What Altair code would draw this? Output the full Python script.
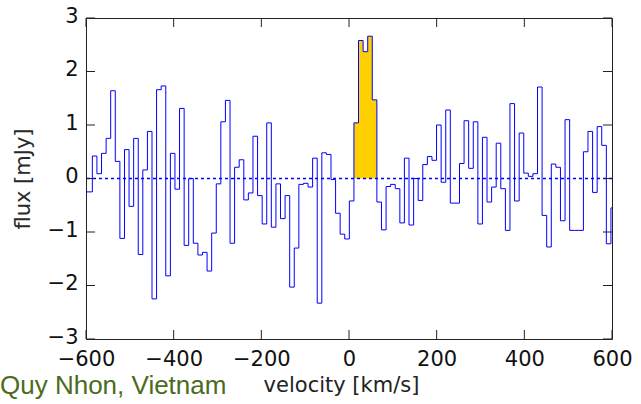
import altair as alt
import pandas as pd

# Channel left edges (km/s); last entry closes the final channel
velocity = [
    -600.0, -585.5, -575.1, -564.6, -554.1, -543.7, -533.2, -522.7, -512.2, -501.8,
    -491.3, -480.8, -470.4, -459.9, -449.4, -439.0, -428.5, -418.0, -407.5, -397.1,
    -386.6, -376.1, -365.7, -355.2, -344.7, -334.3, -323.8, -313.3, -302.8, -292.4,
    -281.9, -271.4, -261.0, -250.5, -240.0, -229.6, -219.1, -208.6, -198.1, -187.7,
    -177.2, -166.7, -156.3, -145.8, -135.3, -124.9, -114.4, -103.9, -93.4, -83.0,
    -72.5, -62.0, -51.6, -41.1, -30.6, -20.2, -9.7, 0.8, 11.3, 21.7,
    32.2, 42.7, 53.1, 63.6, 74.1, 84.6, 95.0, 105.5, 116.0, 126.4,
    136.9, 147.4, 157.8, 168.3, 178.8, 189.3, 199.7, 210.2, 220.7, 231.1,
    241.6, 252.1, 262.5, 273.0, 283.5, 294.0, 304.4, 314.9, 325.4, 335.8,
    346.3, 356.8, 367.2, 377.7, 388.2, 398.7, 409.1, 419.6, 430.1, 440.5,
    451.0, 461.5, 471.9, 482.4, 492.9, 503.4, 513.8, 524.3, 534.8, 545.2,
    555.7, 566.2, 576.6, 587.1, 597.6, 608.0,
]

# Flux per channel (mJy)
flux = [
    -0.25, 0.42, 0.09, 0.47, 0.75, 1.64, 0.32, -1.12, 0.54, -0.52,
    0.75, -1.42, 0.16, 0.88, -2.25, 1.66, 1.73, -1.82, 0.47, -0.20,
    1.31, -1.25, 0.00, -1.21, -1.43, -1.38, -1.73, -1.02, -0.10, 1.06,
    1.46, -1.21, 0.21, 0.35, -0.40, -0.27, 0.79, -0.32, -0.85, 1.04,
    -0.91, -0.10, -0.75, -0.32, -2.03, -1.30, -0.11, -0.09, -0.16, 0.38,
    -2.33, 0.48, 0.45, -0.02, -0.65, -1.04, -1.13, -0.42, 1.04, 2.58,
    2.37, 2.66, 1.47, -0.44, -0.96, -0.15, -0.11, -0.19, -0.83, 0.38,
    -0.87, 0.00, -0.41, 0.26, 0.41, 0.34, 1.00, -0.07, 1.28, -0.46,
    -0.46, 0.28, 1.08, 0.19, 1.06, -0.85, 0.77, -0.44, -0.16, 0.66,
    -0.19, -0.97, 1.40, -0.42, 0.85, 0.10, 0.04, 0.09, 1.71, -0.69,
    -1.28, 0.27, 0.21, -0.79, 1.10, -0.97, -0.97, -0.97, 0.50, 0.88,
    -0.26, 0.97, 0.62, -1.22, -0.55,
]

# Channels of the detected line (highlighted)
line_first, line_last = 58, 62

x_ticks = [-600, -400, -200, 0, 200, 400, 600]
y_ticks = [-3, -2, -1, 0, 1, 2, 3]
location = "Quy Nhon, Vietnam"

W, H = 526, 321
TICK = 9
BLUE = "#0000ff"

spec = pd.DataFrame({"velocity": velocity, "flux": flux + [flux[-1]]})
emis = spec.iloc[line_first:line_last + 2].copy()
emis.iloc[-1, emis.columns.get_loc("flux")] = flux[line_last]

xscale = alt.Scale(domain=[-600, 600], nice=False, zero=False)
yscale = alt.Scale(domain=[-3, 3], nice=False, zero=False)

xaxis = alt.Axis(values=x_ticks, ticks=False, domain=False, grid=False,
                 labelFont="DejaVu Sans", labelFontSize=21, labelColor="#111",
                 labelPadding=9, labelFlush=False, labelOverlap=False,
                 title="velocity [km/s]", titleFont="DejaVu Sans", titleFontSize=21,
                 titleFontWeight="normal", titleColor="#222",
                 titleX=255, titleY=52, titleBaseline="alphabetic", titleAlign="center")
yaxis = alt.Axis(values=y_ticks, ticks=False, domain=False, grid=False,
                 labelFont="DejaVu Sans", labelFontSize=21, labelColor="#111",
                 labelPadding=8, labelOffset=-2, labelFlush=False, labelOverlap=False,
                 title="flux [mJy]", titleFont="DejaVu Sans", titleFontSize=21,
                 titleFontWeight="normal", titleColor="#2a2a2a",
                 titleAngle=270, titleX=-57, titleY=160.5,
                 titleBaseline="alphabetic", titleAlign="center")

def X(field):
    return alt.X(field, scale=xscale, axis=xaxis)

def Y(field):
    return alt.Y(field, scale=yscale, axis=yaxis)

fill = alt.Chart(emis).mark_area(interpolate="step-after", color="#ffd000", opacity=1).encode(
    x=X("velocity:Q"), y=Y("flux:Q"), y2=alt.datum(0),
)

line = alt.Chart(spec).mark_line(interpolate="step-after", color=BLUE, strokeWidth=1, clip=True).encode(
    x=X("velocity:Q"), y=Y("flux:Q"),
)

zero = alt.Chart(pd.DataFrame({"y": [0]})).mark_rule(
    color=BLUE, strokeDash=[3, 3], strokeWidth=1.3
).encode(y=Y("y:Q"))

xt = pd.DataFrame({"v": x_ticks})
yt = pd.DataFrame({"v": y_ticks})
tick_style = dict(color="#222", strokeWidth=1)
xt_bottom = alt.Chart(xt).mark_rule(**tick_style).encode(
    x=X("v:Q"), y=alt.value(H), y2=alt.value(H - TICK))
xt_top = alt.Chart(xt).mark_rule(**tick_style).encode(
    x=X("v:Q"), y=alt.value(0), y2=alt.value(TICK))
yt_left = alt.Chart(yt).mark_rule(**tick_style).encode(
    y=Y("v:Q"), x=alt.value(0), x2=alt.value(TICK))
yt_right = alt.Chart(yt).mark_rule(**tick_style).encode(
    y=Y("v:Q"), x=alt.value(W), x2=alt.value(W - TICK))

label = alt.Chart(pd.DataFrame({"t": [location]})).mark_text(
    align="left", baseline="alphabetic", font="Liberation Sans", fontSize=26,
    color="#4b6b1e", clip=False
).encode(text="t:N", x=alt.value(-86), y=alt.value(376))

chart = alt.layer(fill, line, zero, xt_bottom, xt_top, yt_left, yt_right, label).properties(
    width=W, height=H,
    autosize=alt.AutoSizeParams(type="none"),
    padding={"left": 86, "top": 18, "right": 29, "bottom": 65},
    background="white",
).configure_view(stroke="#222", strokeWidth=1)

chart.save("out.html", embed_options={"renderer": "svg", "actions": False})
